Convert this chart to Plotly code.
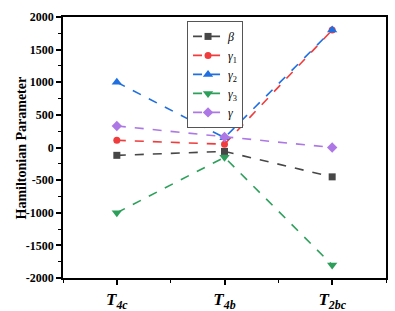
import plotly.graph_objects as go

categories = ["T4c", "T4b", "T2bc"]
tick_labels = ["<b><i>T<sub>4c</sub></i></b>", "<b><i>T<sub>4b</sub></i></b>", "<b><i>T<sub>2bc</sub></i></b>"]
y_ticks = [-2000, -1500, -1000, -500, 0, 500, 1000, 1500, 2000]
y_tick_labels = ["<b>" + str(v) + "</b>" for v in y_ticks]
beta = [-120, -60, -450]
gamma1 = [110, 50, 1800]
gamma2 = [1000, 150, 1800]
gamma3 = [-1000, -150, -1800]
gamma = [330, 160, 0]

series = [
    ("<i>β</i>", beta, "#474747", "square", 7),
    ("<i>γ</i><sub>1</sub>", gamma1, "#f03c3c", "circle", 7),
    ("<i>γ</i><sub>2</sub>", gamma2, "#1f6fe0", "triangle-up", 9),
    ("<i>γ</i><sub>3</sub>", gamma3, "#2ca05a", "triangle-down", 9),
    ("<i>γ</i>", gamma, "#ad78e6", "diamond", 8),
]

fig = go.Figure()
for name, vals, color, sym, sz in series:
    fig.add_trace(go.Scatter(
        x=list(range(len(categories))), y=vals, name=name, mode="lines+markers",
        line=dict(color=color, width=1.6, dash="dash"),
        marker=dict(symbol=sym, size=sz, color=color),
    ))

fig.update_layout(
    width=395, height=311,
    margin=dict(l=63, r=9, t=17, b=33),
    plot_bgcolor="white", paper_bgcolor="white",
    font=dict(family="Liberation Serif", color="black"),
    showlegend=True,
    legend=dict(x=0.384, y=0.985, xanchor="left", yanchor="top",
                bordercolor="#555555", borderwidth=1, bgcolor="white",
                font=dict(size=12, family="Liberation Serif"),
                tracegroupgap=0, itemwidth=30),
    xaxis=dict(
        range=[-0.5, 2.5], tickvals=[0, 1, 2], ticktext=tick_labels,
        showgrid=False, zeroline=False, showline=True, linecolor="black", linewidth=1.5,
        mirror=True, ticks="outside", ticklen=5, tickwidth=1.5, tickcolor="black",
        tickfont=dict(size=17, family="Liberation Serif"), automargin=False,
        minor=dict(tickvals=[-0.5, 0.5, 1.5, 2.5], ticks="outside", ticklen=3, tickwidth=1.2, tickcolor="black"),
    ),
    yaxis=dict(
        range=[-2000, 2000], tickvals=y_ticks, ticktext=y_tick_labels,
        showgrid=False, zeroline=False, showline=True, linecolor="black", linewidth=1.5,
        mirror=True, ticks="outside", ticklen=5, tickwidth=1.5, tickcolor="black",
        tickfont=dict(size=12, family="Liberation Serif"), automargin=False,
        minor=dict(dtick=250, tick0=0, ticks="outside", ticklen=3, tickwidth=1.2, tickcolor="black"),
    ),
    annotations=[dict(
        text="<b>Hamiltonian Parameter</b>", xref="paper", yref="paper",
        x=-0.127, y=0.5, xanchor="center", yanchor="middle", textangle=-90,
        showarrow=False, font=dict(size=14, family="Liberation Serif"),
    )],
)

fig.write_html("out.html", config={"displayModeBar": False},
               post_script="document.body.style.margin='0';document.body.style.overflow='hidden';")
